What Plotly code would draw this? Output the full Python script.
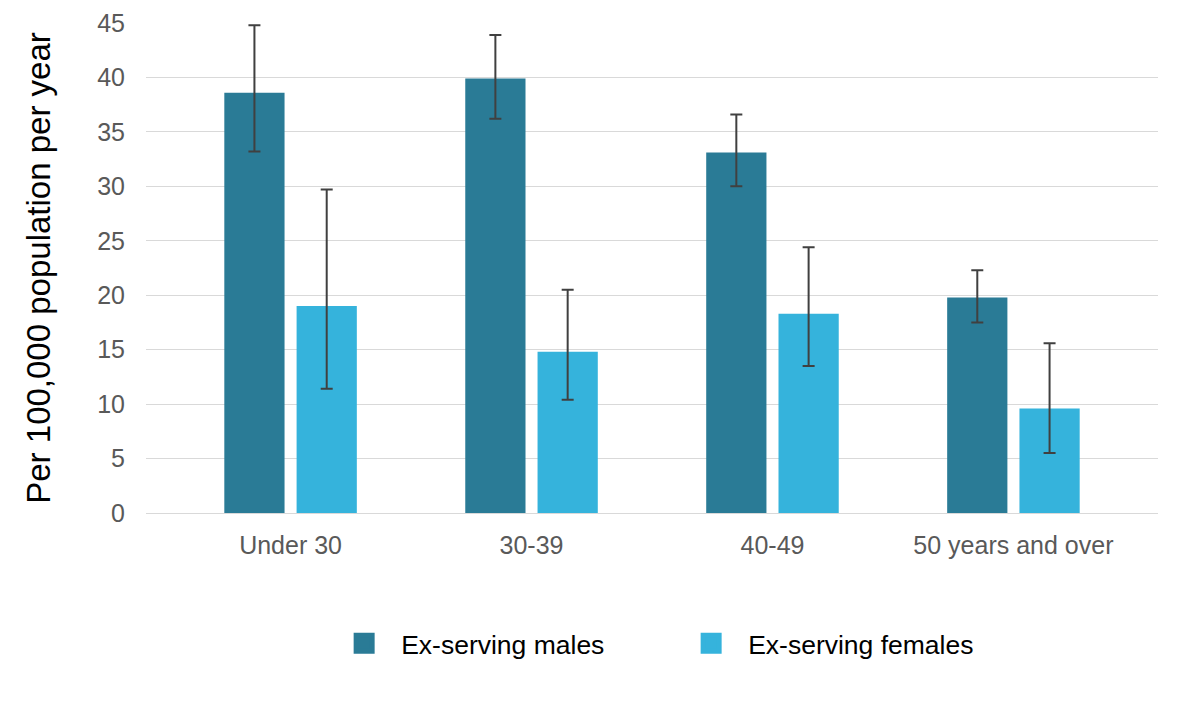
import plotly.graph_objects as go

categories = ["Under 30", "30-39", "40-49", "50 years and over"]
males = [38.6, 39.9, 33.1, 19.8]
males_upper = [44.8, 43.9, 36.6, 22.3]
males_lower = [33.2, 36.2, 30.0, 17.5]
females = [19.0, 14.8, 18.3, 9.6]
females_upper = [29.7, 20.5, 24.4, 15.6]
females_lower = [11.4, 10.4, 13.5, 5.5]
y_ticks = [0, 5, 10, 15, 20, 25, 30, 35, 40, 45]

MALE_COLOR = "#2A7B96"
FEMALE_COLOR = "#35B3DC"
ERR_COLOR = "#404040"

def err(vals, up, lo):
    return dict(type="data", symmetric=False,
                array=[u - v for u, v in zip(up, vals)],
                arrayminus=[v - l for v, l in zip(vals, lo)],
                color=ERR_COLOR, thickness=2, width=6)

fig = go.Figure()
fig.add_trace(go.Bar(
    x=categories, y=males, name="Ex-serving males", showlegend=False,
    marker=dict(color=MALE_COLOR, line=dict(width=0)),
    width=0.25, offset=-0.275,
    error_y=err(males, males_upper, males_lower),
))
fig.add_trace(go.Bar(
    x=categories, y=females, name="Ex-serving females", showlegend=False,
    marker=dict(color=FEMALE_COLOR, line=dict(width=0)),
    width=0.25, offset=0.025,
    error_y=err(females, females_upper, females_lower),
))
# legend entries with larger square swatches
for name, col in [("Ex-serving males", MALE_COLOR), ("Ex-serving females", FEMALE_COLOR)]:
    fig.add_trace(go.Scatter(
        x=[None], y=[None], mode="markers", name=name,
        marker=dict(symbol="square", size=16, color=col, line=dict(width=5, color=col)),
    ))

fig.update_layout(
    width=1181, height=708,
    margin=dict(l=146, r=23, t=23, b=195, autoexpand=False),
    paper_bgcolor="white", plot_bgcolor="white",
    font=dict(family="Liberation Sans, Arial, sans-serif", color="#595959", size=24),
    barmode="group",
    showlegend=True,
    legend=dict(orientation="h", xref="container", yref="container",
                x=0.277, xanchor="left", y=0.125, yanchor="top",
                font=dict(size=26.5, color="#000000"), entrywidth=268,
                itemwidth=64, traceorder="normal"),
    xaxis=dict(range=[-0.6, 3.6], showgrid=False, showline=True,
               linecolor="#D9D9D9", linewidth=1, ticks="", ticklabelstandoff=10,
               tickangle=0, tickfont=dict(size=25, color="#595959")),
    yaxis=dict(range=[0, 45], tickvals=y_ticks, showgrid=True,
               gridcolor="#D9D9D9", gridwidth=1, zeroline=False,
               tickfont=dict(size=25, color="#595959"), ticklabelstandoff=20,
               title=dict(text="Per 100,000 population per year",
                          font=dict(size=33, color="#000000"), standoff=36)),
)

fig.write_html("out.html")
